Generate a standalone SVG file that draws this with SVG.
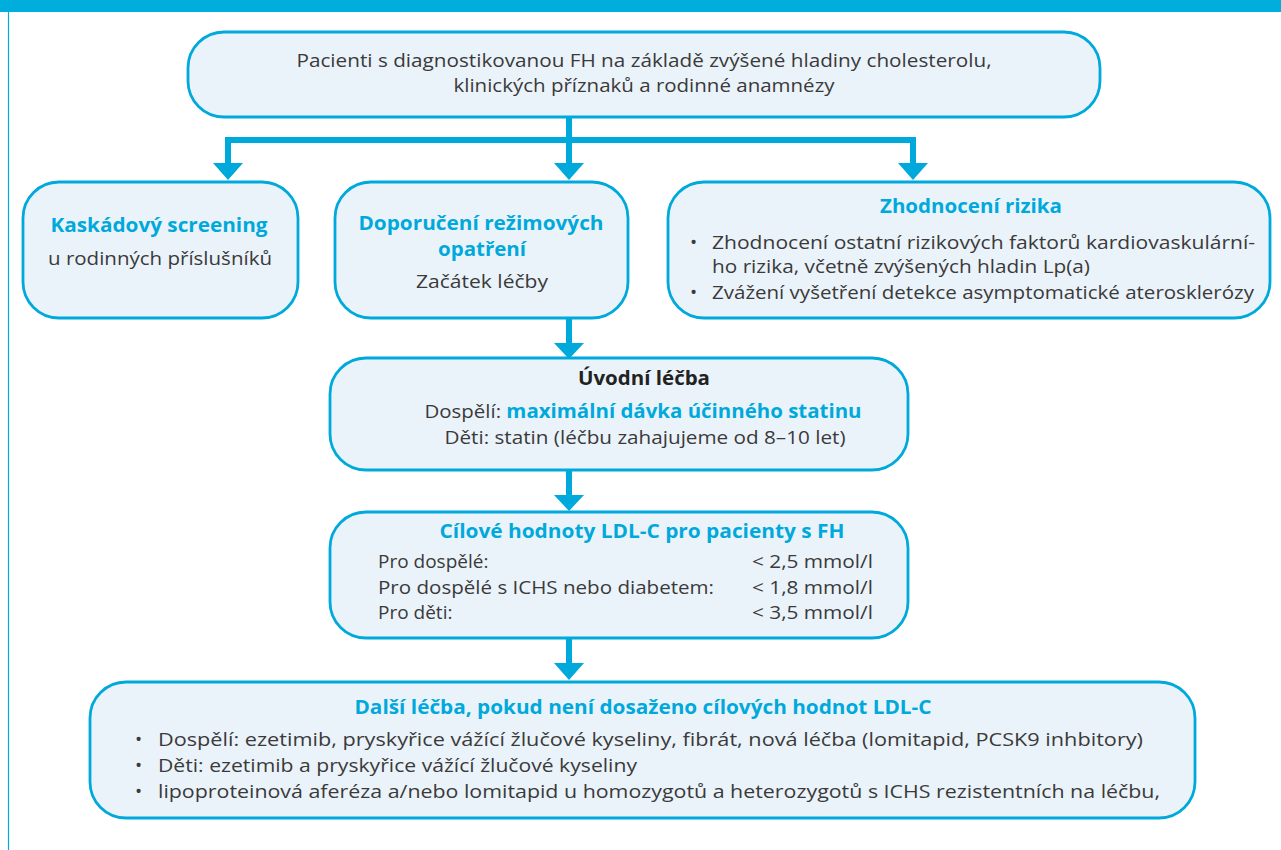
<svg xmlns="http://www.w3.org/2000/svg" width="1281" height="850" viewBox="0 0 1281 850">
<defs>
<style>
.box{fill:#EBF3FA;stroke:#00A9DC;stroke-width:2.8}
.t{font-family:"Open Sans","Liberation Sans",sans-serif;font-size:19px;fill:#3a3a3a}
.c{text-anchor:middle}
.b{font-weight:bold;fill:#00A9DC}
.bd{font-weight:bold;fill:#222}
.conn{fill:none;stroke:#00A9DC;stroke-width:6}
.head{fill:#00A9DC}
</style>
</defs>
<rect width="1281" height="850" fill="#fff"/>
<rect x="0" y="0" width="1281" height="12" fill="#00AEDE"/>
<line x1="8.5" y1="12" x2="8.5" y2="850" stroke="#00AEDE" stroke-width="1.2"/>

<g id="connectors">
<path class="conn" d="M569 117 V164 M228 164 V140 H913 V164"/>
<polygon class="head" points="213,163 243,163 228,180"/>
<polygon class="head" points="554,163 584,163 569,180"/>
<polygon class="head" points="898,163 928,163 913,180"/>
<path class="conn" d="M569 318 V344"/>
<polygon class="head" points="554,343 584,343 569,359"/>
<path class="conn" d="M569 470 V496"/>
<polygon class="head" points="554,495 584,495 569,511"/>
<path class="conn" d="M569 638 V664"/>
<polygon class="head" points="554,663 584,663 569,680"/>
</g>

<g id="node-top">
<rect class="box" x="188" y="32" width="912" height="85" rx="36"/>
<text class="t c" x="644" y="67" textLength="695" lengthAdjust="spacingAndGlyphs">Pacienti s diagnostikovanou FH na základě zvýšené hladiny cholesterolu,</text>
<text class="t c" x="644" y="92" textLength="381" lengthAdjust="spacingAndGlyphs">klinických příznaků a rodinné anamnézy</text>
</g>

<g id="node-kaskadovy">
<rect class="box" x="23" y="182" width="275" height="136" rx="36"/>
<text class="t c b" x="159" y="232" textLength="217" lengthAdjust="spacingAndGlyphs">Kaskádový screening</text>
<text class="t c" x="160" y="265" textLength="224" lengthAdjust="spacingAndGlyphs">u rodinných příslušníků</text>
</g>

<g id="node-doporuceni">
<rect class="box" x="335" y="182" width="293" height="136" rx="36"/>
<text class="t c b" x="481" y="230" textLength="245" lengthAdjust="spacingAndGlyphs">Doporučení režimových</text>
<text class="t c b" x="482" y="256" textLength="88" lengthAdjust="spacingAndGlyphs">opatření</text>
<text class="t c" x="482" y="288" textLength="132" lengthAdjust="spacingAndGlyphs">Začátek léčby</text>
</g>

<g id="node-riziko">
<rect class="box" x="668" y="182" width="602" height="136" rx="36"/>
<text class="t c b" x="971" y="213" textLength="182" lengthAdjust="spacingAndGlyphs">Zhodnocení rizika</text>
<text class="t" x="690" y="249">•</text>
<text class="t" x="712" y="249" textLength="543" lengthAdjust="spacingAndGlyphs">Zhodnocení ostatní rizikových faktorů kardiovaskulární-</text>
<text class="t" x="712" y="273" textLength="378" lengthAdjust="spacingAndGlyphs">ho rizika, včetně zvýšených hladin Lp(a)</text>
<text class="t" x="690" y="299">•</text>
<text class="t" x="712" y="299" textLength="542" lengthAdjust="spacingAndGlyphs">Zvážení vyšetření detekce asymptomatické aterosklerózy</text>
</g>

<g id="node-uvodni">
<rect class="box" x="330" y="358" width="578" height="112" rx="36"/>
<text class="t c bd" x="644" y="385" textLength="132" lengthAdjust="spacingAndGlyphs">Úvodní léčba</text>
<text class="t c" x="643" y="418" textLength="437" lengthAdjust="spacingAndGlyphs">Dospělí: <tspan class="b">maximální dávka účinného statinu</tspan></text>
<text class="t c" x="645" y="444" textLength="401" lengthAdjust="spacingAndGlyphs">Děti: statin (léčbu zahajujeme od 8–10 let)</text>
</g>

<g id="node-cilove">
<rect class="box" x="330" y="512" width="578" height="126" rx="36"/>
<text class="t c b" x="642" y="538" textLength="405" lengthAdjust="spacingAndGlyphs">Cílové hodnoty LDL-C pro pacienty s FH</text>
<text class="t" x="378" y="568">Pro dospělé:</text>
<text class="t" x="752" y="568" textLength="121" lengthAdjust="spacingAndGlyphs">&lt; 2,5 mmol/l</text>
<text class="t" x="378" y="594" textLength="336" lengthAdjust="spacingAndGlyphs">Pro dospělé s ICHS nebo diabetem:</text>
<text class="t" x="752" y="594" textLength="121" lengthAdjust="spacingAndGlyphs">&lt; 1,8 mmol/l</text>
<text class="t" x="378" y="619">Pro děti:</text>
<text class="t" x="752" y="619" textLength="121" lengthAdjust="spacingAndGlyphs">&lt; 3,5 mmol/l</text>
</g>

<g id="node-dalsi">
<rect class="box" x="90" y="682" width="1105" height="136" rx="36"/>
<text class="t c b" x="643" y="714" textLength="577" lengthAdjust="spacingAndGlyphs">Další léčba, pokud není dosaženo cílových hodnot LDL-C</text>
<text class="t" x="135" y="746">•</text>
<text class="t" x="158" y="746" textLength="985" lengthAdjust="spacingAndGlyphs">Dospělí: ezetimib, pryskyřice vážící žlučové kyseliny, fibrát, nová léčba (lomitapid, PCSK9 inhbitory)</text>
<text class="t" x="135" y="772">•</text>
<text class="t" x="158" y="772" textLength="479" lengthAdjust="spacingAndGlyphs">Děti: ezetimib a pryskyřice vážící žlučové kyseliny</text>
<text class="t" x="135" y="798">•</text>
<text class="t" x="158" y="798" textLength="1002" lengthAdjust="spacingAndGlyphs">lipoproteinová aferéza a/nebo lomitapid u homozygotů a heterozygotů s ICHS rezistentních na léčbu,</text>
</g>
</svg>
